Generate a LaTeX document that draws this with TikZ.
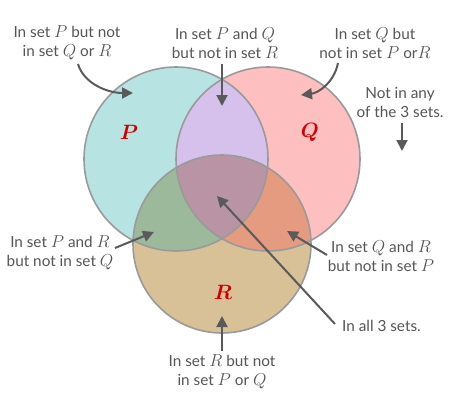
\documentclass[tikz,border=0pt]{standalone}
\usepackage[no-math]{fontspec}
\setmainfont{Lato}
\usetikzlibrary{arrows.meta}
\newcommand\mathlet[1]{{\fontsize{17.5}{19}\selectfont$#1$}}
\definecolor{txt}{HTML}{555555}
\definecolor{arr}{HTML}{5A5A5A}
\definecolor{edge}{HTML}{9A9A9A}
\definecolor{cP}{HTML}{B7E4E3}
\definecolor{cQ}{HTML}{FDBFBF}
\definecolor{cR}{HTML}{D8C197}
\definecolor{cPQ}{HTML}{D6C1ED}
\definecolor{cPR}{HTML}{9CB99C}
\definecolor{cQR}{HTML}{E59B80}
\definecolor{cPQR}{HTML}{B994A5}
\definecolor{lab}{HTML}{D00000}
\begin{document}
\begin{tikzpicture}[x=1pt,y=-1pt,
  lbl/.style={text=txt,align=center,inner sep=0pt,font=\fontsize{15.3}{19}\selectfont},
  setname/.style={text=lab,inner sep=0pt,font=\fontsize{21}{21}\selectfont\boldmath},
  ptr/.style={draw=arr,line width=2pt,-{Triangle[length=11pt,width=11pt]}},
  rim/.style={draw=edge,line width=1.6pt}]
\useasboundingbox (0,0) rectangle (450,400);
% fills
\fill[cP] (176,159) circle (92);
\fill[cQ] (268,159) circle (92);
\fill[cR] (222,244) circle (89);
\begin{scope}
  \clip (176,159) circle (92);
  \fill[cPQ] (268,159) circle (92);
  \fill[cPR] (222,244) circle (89);
\end{scope}
\begin{scope}
  \clip (268,159) circle (92);
  \clip (222,244) circle (89);
  \fill[cQR] (0,0) rectangle (450,400);
  \clip (176,159) circle (92);
  \fill[cPQR] (0,0) rectangle (450,400);
\end{scope}
\node[rim,circle,minimum size=184pt,inner sep=0pt] (P) at (176,159) {};
\node[rim,circle,minimum size=184pt,inner sep=0pt] (Q) at (268,159) {};
\node[rim,circle,minimum size=178pt,inner sep=0pt] (R) at (222,244) {};
% set names
\node[setname] (nP) at (129,132) {$P$};
\node[setname] (nQ) at (310,132) {$Q$};
\node[setname] (nR) at (223,292) {$R$};
% labels
\node[lbl] (tP) at (67,43) {In set \mathlet{P} but not\\in set \mathlet{Q} or \mathlet{R}};
\node[lbl] (tPQ) at (225,43) {In set \mathlet{P} and \mathlet{Q}\\but not in set \mathlet{R}};
\node[lbl] (tQ) at (375,43) {In set \mathlet{Q} but\\not in set \mathlet{P} or\mathlet{R}};
\node[lbl] (tN) at (400,102) {Not in any\\of the 3 sets.};
\node[lbl] (tPR) at (60,253) {In set \mathlet{P} and \mathlet{R}\\but not in set \mathlet{Q}};
\node[lbl] (tQR) at (381,256) {In set \mathlet{Q} and \mathlet{R}\\but not in set \mathlet{P}};
\node[lbl,anchor=west] (tA) at (342,326) {In all 3 sets.};
\node[lbl] (tR) at (222,372) {In set \mathlet{R} but not\\in set \mathlet{P} or \mathlet{Q}};
% pointer ends
\coordinate (aP0) at (78,64);
\coordinate (aP1) at (133,93);
\coordinate (aPQ0) at (222,64);
\coordinate (aPQ1) at (222,106);
\coordinate (aQ0) at (338,63);
\coordinate (aQ1) at (301,95);
\coordinate (aN0) at (402,123);
\coordinate (aN1) at (402,151);
\coordinate (aPR0) at (115,248);
\coordinate (aPR1) at (154,232);
\coordinate (aQR0) at (327,255);
\coordinate (aQR1) at (287,231);
\coordinate (aA0) at (335,324);
\coordinate (aA1) at (217,196);
\coordinate (aR0) at (222,351);
\coordinate (aR1) at (222,316);
\draw[ptr] (aP0) .. controls (84,84) and (108,93) .. (aP1);
\draw[ptr] (aPQ0) -- (aPQ1);
\draw[ptr] (aQ0) .. controls (334,83) and (318,93) .. (aQ1);
\draw[ptr] (aN0) -- (aN1);
\draw[ptr] (aPR0) -- (aPR1);
\draw[ptr] (aQR0) -- (aQR1);
\draw[ptr] (aA0) -- (aA1);
\draw[ptr] (aR0) -- (aR1);
\end{tikzpicture}
\end{document}
